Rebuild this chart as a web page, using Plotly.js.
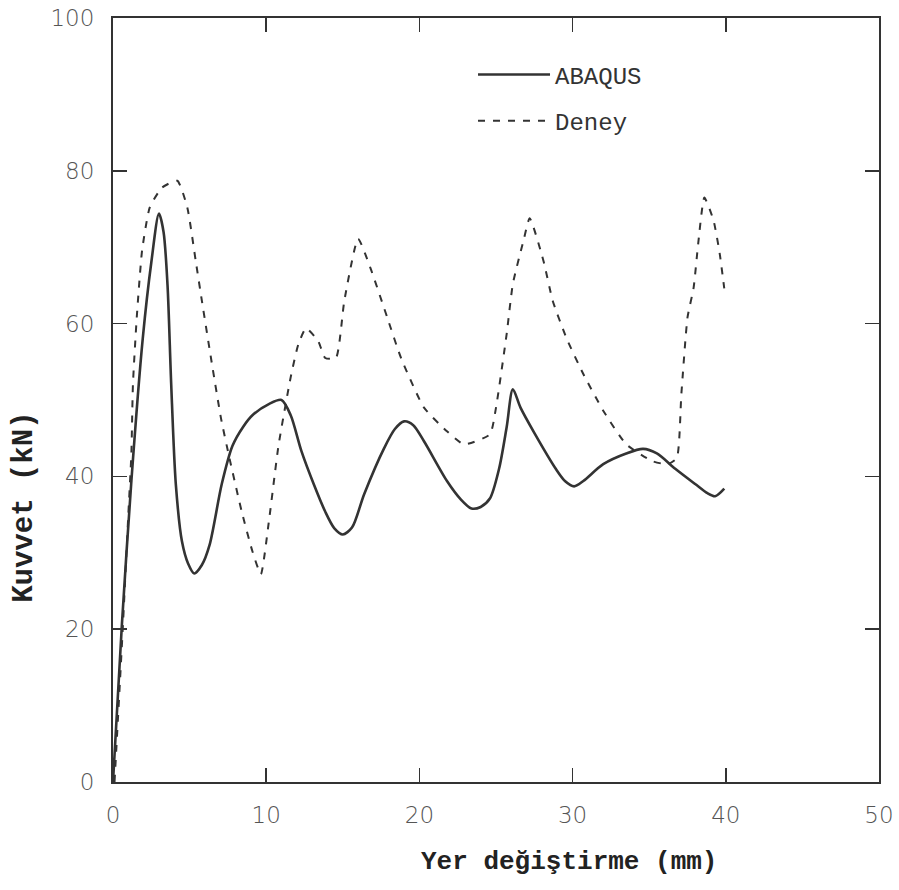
<!DOCTYPE html>
<html>
<head>
<meta charset="utf-8">
<script src="https://cdn.plot.ly/plotly-3.0.1.min.js"></script>
<style>html,body{margin:0;padding:0;background:#fff;}#chart{width:899px;height:890px;}</style>
</head>
<body>
<div id="chart"></div>
<script>
// ABAQUS (solid)
const abaqusX = [0, 0.58, 1.2, 1.94, 2.5, 3.0, 3.3, 3.56, 3.8, 4.1, 4.5, 4.9, 5.3, 5.8, 6.3, 7.1, 7.8, 8.5, 9.1, 10.2, 11.0, 11.6, 12.3, 13.1, 13.85, 14.45, 15.0, 15.6, 16.4, 17.7, 18.4, 19.0, 19.6, 20.3, 21.8, 22.7, 23.4, 24.0, 24.6, 25.2, 25.7, 26.1, 26.6, 27.5, 28.9, 29.5, 30.1, 30.7, 32.0, 33.5, 34.6, 35.5, 36.7, 38.0, 38.8, 39.3, 39.9];
const abaqusY = [0, 20.6, 39.4, 58, 68, 74.4, 72, 65, 52, 39, 31.5, 28.6, 27.3, 28.4, 31, 39, 44, 46.5, 48, 49.5, 50, 48, 43.3, 39, 35.4, 33.2, 32.4, 33.3, 37.7, 43.7, 46.2, 47.2, 46.7, 44.6, 39.4, 37, 35.8, 36, 37.1, 41, 46.5, 51.4, 49, 45.7, 41, 39.4, 38.7, 39.4, 41.6, 43, 43.6, 43, 41, 39, 37.8, 37.4, 38.4];
// Deney (dashed)
const deneyX = [0.1, 0.45, 0.65, 1.0, 1.2, 1.3, 1.55, 1.9, 2.4, 3.2, 4.2, 4.85, 5.4, 5.8, 6.5, 7.05, 7.6, 8.4, 9.1, 9.65, 10.2, 10.8, 11.6, 12.1, 12.6, 13.4, 13.85, 14.55, 15.1, 16.0, 16.8, 17.9, 18.8, 20.3, 21.8, 22.9, 24.6, 25.0, 25.7, 26.1, 26.8, 27.2, 28.1, 28.7, 29.6, 30.7, 32.0, 33.5, 35.2, 36.2, 36.8, 37.1, 37.5, 37.9, 38.2, 38.6, 39.2, 39.6, 39.9];
const deneyY = [0, 13, 20.6, 35, 43, 52, 60.8, 69.6, 75.2, 77.8, 78.7, 75.2, 68.2, 63, 54.2, 47.6, 42.4, 35.4, 30.2, 27.2, 34.5, 44, 53, 57.3, 59.4, 57.7, 55.5, 55.5, 63, 71.1, 67.3, 60.8, 55.5, 49, 45.9, 44.2, 45.5, 49, 58.7, 65.2, 70.9, 73.8, 68.2, 63, 58.1, 53.4, 48.6, 44.2, 42, 41.6, 42.4, 50.8, 60.8, 64.7, 70.5, 76.5, 73.5, 69.2, 64.6];

const xTicks = [0, 10, 20, 30, 40, 50];
const yTicks = [0, 20, 40, 60, 80, 100];
const seriesNames = ['ABAQUS', 'Deney'];
const xTitle = 'Yer değiştirme (mm)';
const yTitle = 'Kuvvet (kN)';

const traces = [
  {x: abaqusX, y: abaqusY, name: seriesNames[0], mode: 'lines', legendgroup: 'a',
   line: {color: '#333', width: 2.6, shape: 'spline', smoothing: 0.8}},
  {x: deneyX, y: deneyY, name: seriesNames[1], mode: 'lines', legendgroup: 'd',
   line: {color: '#333', width: 2, dash: '7px,8px', shape: 'spline', smoothing: 0.5}}
];

const tickFont = {family: '"DejaVu Sans", sans-serif', weight: 200, size: 23, color: '#555'};
const axisCommon = {
  showgrid: false, zeroline: false, showline: true, linecolor: '#333', linewidth: 2,
  mirror: 'ticks', ticks: 'inside', ticklen: 14, tickwidth: 1.5, tickcolor: '#333',
  tickfont: tickFont, ticklabeloverflow: 'allow'
};

const layout = {
  width: 899, height: 890,
  margin: {l: 113, r: 20, t: 18, b: 108},
  paper_bgcolor: '#fff', plot_bgcolor: '#fff',
  showlegend: true,
  legend: {x: 0.47, y: 0.955, xanchor: 'left', yanchor: 'top', bgcolor: 'rgba(0,0,0,0)',
           font: {family: '"Liberation Mono", monospace', size: 24, color: '#333'},
           traceorder: 'grouped', tracegroupgap: 12, itemwidth: 72},
  xaxis: Object.assign({}, axisCommon, {range: [0, 50], tickvals: xTicks, ticktext: xTicks.map(String), ticklabelstandoff: 11}),
  yaxis: Object.assign({}, axisCommon, {range: [0, 100], tickvals: yTicks, ticktext: yTicks.map(String), ticklabelstandoff: 12}),
  annotations: [
    {text: '<b>' + xTitle + '</b>', xref: 'paper', yref: 'paper', x: 0.595, y: -0.105, xanchor: 'center', yanchor: 'middle',
     showarrow: false, font: {family: '"Liberation Mono", monospace', size: 26, color: '#222'}},
    {text: '<b>' + yTitle + '</b>', xref: 'paper', yref: 'paper', x: -0.115, y: 0.36, xanchor: 'center', yanchor: 'middle',
     textangle: -90, showarrow: false, font: {family: '"Liberation Mono", monospace', size: 29, color: '#222'}}
  ]
};

Plotly.newPlot('chart', traces, layout, {displayModeBar: false, staticPlot: true});
</script>
</body>
</html>
